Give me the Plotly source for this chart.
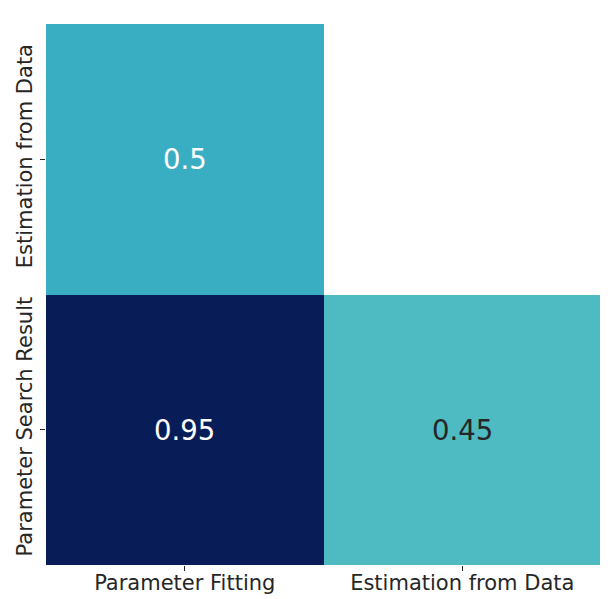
import plotly.graph_objects as go

x_labels = ["Parameter Fitting", "Estimation from Data"]
y_labels = ["Estimation from Data", "Parameter Search Result"]
z_values = [[0.5, None],
            [0.95, 0.45]]

# matplotlib YlGnBu
ylgnbu = ["#ffffd9", "#edf8b1", "#c7e9b4", "#7fcdbb", "#41b6c4",
          "#1d91c0", "#225ea8", "#253494", "#081d58"]
colorscale = [[i / (len(ylgnbu) - 1), c] for i, c in enumerate(ylgnbu)]
zmin, zmax = 0, 0.95

fig = go.Figure(go.Heatmap(
    z=z_values, x=x_labels, y=y_labels,
    colorscale=colorscale, zmin=zmin, zmax=zmax,
    showscale=False, hoverongaps=False,
))

# cell labels, white on dark cells, dark grey on light
for i, row in enumerate(z_values):
    for j, v in enumerate(row):
        if v is None:
            continue
        frac = (v - zmin) / (zmax - zmin)
        fig.add_annotation(
            x=x_labels[j], y=y_labels[i], text=f"{v:g}", showarrow=False,
            font=dict(size=27.5, color="white" if frac > 0.5 else "#262626"),
        )

fig.update_xaxes(
    showgrid=False, zeroline=False, showline=False, automargin=False,
    ticks="outside", ticklen=5, tickcolor="#262626", ticklabelstandoff=-6,
    tickfont=dict(size=21, color="#262626"),
)
fig.update_yaxes(
    showgrid=False, zeroline=False, showline=False, autorange="reversed",
    automargin=False,
    ticks="outside", ticklen=5, tickcolor="#262626", tickangle=-90,
    tickfont=dict(size=21, color="#262626"),
)
# page body adds an 8px offset, so the figure is 8px smaller each way
fig.update_layout(
    width=600, height=591,
    margin=dict(l=38, r=7, t=16, b=34),
    paper_bgcolor="white", plot_bgcolor="white",
    font=dict(family="DejaVu Sans"),
)
fig.write_html("out.html")
